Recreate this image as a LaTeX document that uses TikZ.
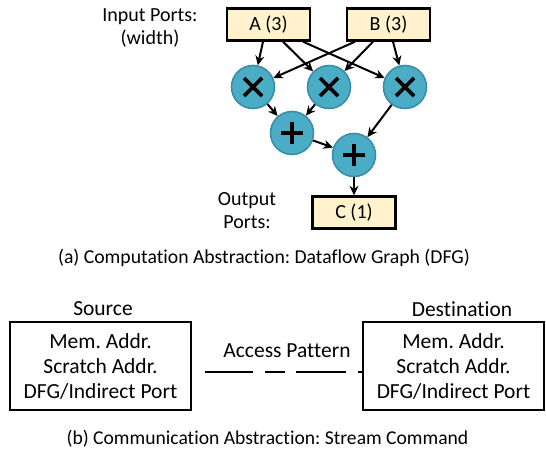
\documentclass[tikz,border=0pt]{standalone}
\usepackage{fontspec}
\setmainfont{Carlito}[Ligatures=NoCommon]
\frenchspacing
\usetikzlibrary{arrows.meta,calc}
\definecolor{opfill}{HTML}{4BACC6}
\definecolor{opline}{HTML}{3A8FA6}
\definecolor{portfill}{HTML}{FFF2CC}
\tikzset{
  fs/.style 2 args={font=\fontsize{#1}{#2}\selectfont},
  port/.style={draw=black, line width=2.4pt, fill=portfill, minimum width=83pt, minimum height=32pt, inner sep=0pt, fs={20}{23}},
  op/.style={circle, draw=opline, line width=1.6pt, fill=opfill, minimum size=43pt, inner sep=0pt},
  mul/.style={op, path picture={
      \draw[draw=black, line width=3.6pt, line cap=butt] ($(path picture bounding box.center)+(-9,-9)$) -- ($(path picture bounding box.center)+(9,9)$);
      \draw[draw=black, line width=3.6pt, line cap=butt] ($(path picture bounding box.center)+(-9,9)$) -- ($(path picture bounding box.center)+(9,-9)$);}},
  add/.style={op, path picture={
      \draw[draw=black, line width=3.6pt] ($(path picture bounding box.center)+(-11,0)$) -- ($(path picture bounding box.center)+(11,0)$);
      \draw[draw=black, line width=3.6pt] ($(path picture bounding box.center)+(0,-11)$) -- ($(path picture bounding box.center)+(0,11)$);}},
  arr/.style={-{Stealth[length=9.5pt,width=9pt]}, line width=2pt},
  membox/.style={draw=black, line width=2.2pt, minimum width=181pt, minimum height=88pt, inner sep=0pt, align=center, fs={21.5}{25}},
  lbl/.style={inner sep=0pt, align=center},
}
\begin{document}
\begin{tikzpicture}[x=1pt, y=-1pt]
\useasboundingbox (0,0) rectangle (546,452);
% input / output ports
\node[port] (A) at (268.5,24.5) {A (3)};
\node[port] (B) at (388.5,24.5) {B (3)};
\node[port] (C) at (354,212.5) {C (1)};
\node[lbl, fs={20}{23}] (inlbl) at (150,28) {Input Ports:\\(width)};
\node[lbl, fs={20}{23}] (outlbl) at (247,211) {Output\\Ports:};
% operators
\node[mul] (m1) at (253,87) {};
\node[mul] (m2) at (329,87) {};
\node[mul] (m3) at (405,87) {};
\node[add] (p1) at (292,133) {};
\node[add] (p2) at (354,155) {};
% edges
\draw[arr] ([xshift=-5.5pt]A.south) -- (m1);
\draw[arr] ([xshift=14.5pt]A.south) -- (m2);
\draw[arr] ([xshift=34.5pt]A.south) -- (m3);
\draw[arr] ([xshift=-33.5pt]B.south) -- (m1);
\draw[arr] ([xshift=-15.5pt]B.south) -- (m2);
\draw[arr] ([xshift=4.5pt]B.south) -- (m3);
\draw[arr] (m1) -- (p1);
\draw[arr] (m2) -- (p1);
\draw[arr] (m3) -- (p2);
\draw[arr] (p1) -- (p2);
\draw[arr] (p2) -- (C);
\node[lbl, fs={19.7}{23}] (capa) at (264,258) {(a) Computation Abstraction: Dataflow Graph (DFG)};
% stream command
\node[membox] (src) at (100.5,366) {Mem. Addr.\\Scratch Addr.\\DFG/Indirect Port};
\node[membox] (dst) at (453.5,366) {Mem. Addr.\\Scratch Addr.\\DFG/Indirect Port};
\node[lbl, fs={21.5}{25}] (srclbl) at (103,309) {Source};
\node[lbl, fs={21.5}{25}] (dstlbl) at (462,309) {Destination};
\node[lbl, fs={21.5}{25}] (aplbl) at (287,351) {Access Pattern};
\coordinate (dstart) at (205,372);
\draw[line width=2pt, dash pattern=on 48pt off 12pt on 20pt off 11pt on 50pt off 12pt] (dstart) -- (dstart -| dst.west);
\node[lbl, fs={19.6}{23}] (capb) at (267.5,439) {(b) Communication Abstraction: Stream Command};
\end{tikzpicture}
\end{document}
